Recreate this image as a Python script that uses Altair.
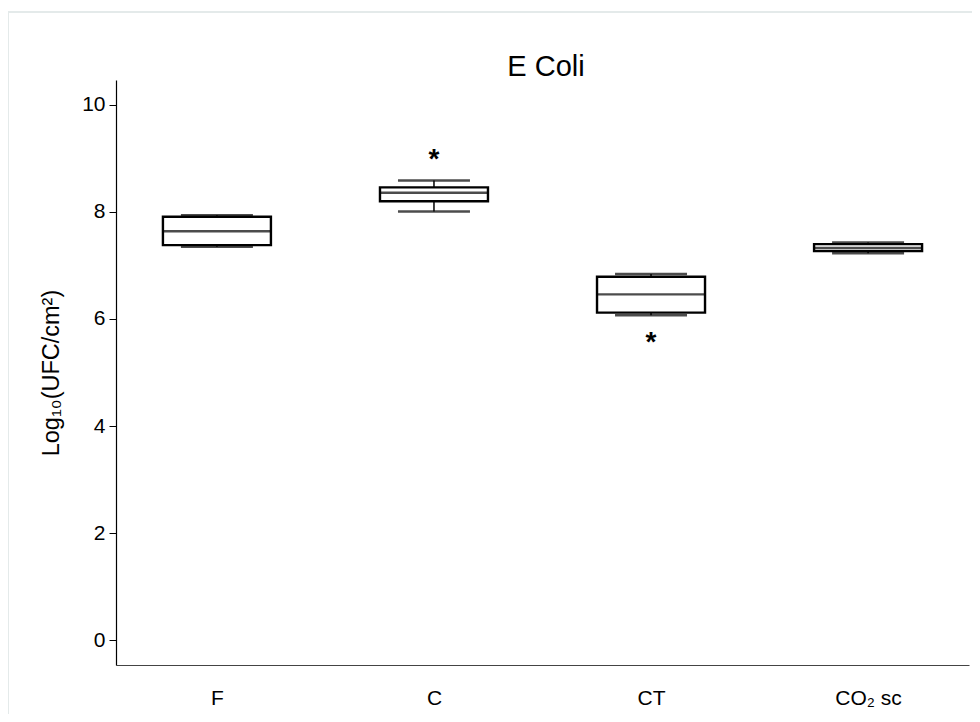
import altair as alt
import pandas as pd

groups = ["F", "C", "CT", "CO₂ sc"]
whisker_low = [7.35, 8.01, 6.07, 7.23]
q1 = [7.38, 8.20, 6.12, 7.27]
median = [7.64, 8.36, 6.46, 7.33]
q3 = [7.91, 8.46, 6.79, 7.40]
whisker_high = [7.94, 8.59, 6.84, 7.43]

outlier_groups = ["C", "CT"]
outlier_values = [9.05, 5.63]

title_text = "E Coli"

df = pd.DataFrame({
    "group": groups,
    "lo": whisker_low,
    "q1": q1,
    "med": median,
    "q3": q3,
    "hi": whisker_high,
})
out = pd.DataFrame({"group": outlier_groups, "val": outlier_values})

FONT = "'Liberation Sans', Arial, sans-serif"

xscale = alt.Scale(type="point", padding=0.465)
x = alt.X(
    "group:N",
    sort=groups,
    scale=xscale,
    axis=alt.Axis(
        title=None, ticks=False, labelAngle=0, labelFontSize=21, labelFont=FONT,
        labelColor="black", labelPadding=22, domainColor="#444", domainWidth=1.2,
        grid=False,
    ),
)
yscale = alt.Scale(domain=[-0.467, 10.467], nice=False, zero=False)
yaxis = alt.Axis(
    title="Log₁₀(UFC/cm²)", values=[0, 2, 4, 6, 8, 10], titleFontSize=23.5,
    titleFont=FONT, titleFontWeight="normal", titleColor="black", titlePadding=18,
    labelFontSize=21, labelFont=FONT, labelColor="black", labelPadding=4,
    tickColor="black", tickSize=7, domainColor="black", domainWidth=1.2, grid=False,
)

base = alt.Chart(df)

frame = base.mark_rect(fill=None, stroke="#e4eaea", strokeWidth=1.5, clip=False).encode(
    x=alt.value(-108), x2=alt.value(872), y=alt.value(-68), y2=alt.value(660)
)
title = alt.Chart(pd.DataFrame({"t": [title_text]})).mark_text(
    fontSize=29, font=FONT, color="black", baseline="alphabetic", align="center"
).encode(text="t:N", x=alt.value(430), y=alt.value(-4))

stem = base.mark_rule(color="black", strokeWidth=1.5).encode(
    x=x, y=alt.Y("lo:Q", scale=yscale, axis=yaxis), y2="hi:Q"
)
cap_lo = base.mark_tick(color="black", size=72, thickness=2.5).encode(
    x=x, y=alt.Y("lo:Q", scale=yscale)
)
cap_hi = base.mark_tick(color="black", size=72, thickness=2.5).encode(
    x=x, y=alt.Y("hi:Q", scale=yscale)
)
box = base.mark_bar(size=108, fill="white", stroke="black", strokeWidth=2.4).encode(
    x=x, y=alt.Y("q1:Q", scale=yscale), y2="q3:Q"
)
med = base.mark_tick(color="black", size=108, thickness=2.4).encode(
    x=x, y=alt.Y("med:Q", scale=yscale)
)
stars = alt.Chart(out).mark_text(
    text="*", fontSize=28, fontWeight="bold", font=FONT, color="black",
    baseline="alphabetic", dy=12,
).encode(x=alt.X("group:N", sort=groups, scale=xscale),
         y=alt.Y("val:Q", scale=yscale))

chart = alt.layer(frame, title, stem, cap_lo, cap_hi, box, med, stars).properties(
    width=853,
    height=585,
    autosize=alt.AutoSizeParams(type="none"),
    padding={"left": 108, "top": 72, "right": 3, "bottom": 49},
).configure_view(stroke=None)

chart.save("out.html", embed_options={"renderer": "svg", "actions": False})
